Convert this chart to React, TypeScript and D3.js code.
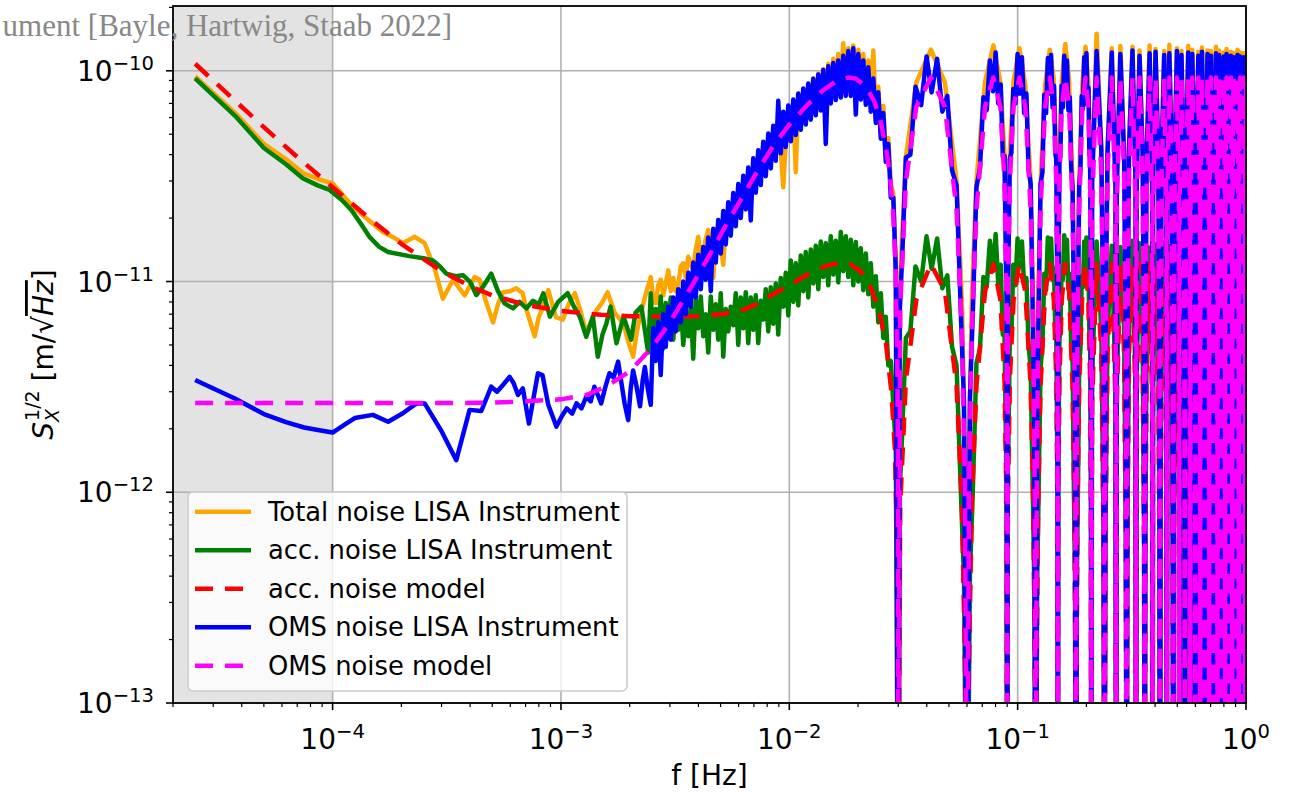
import React from 'react';
import * as d3 from 'd3';

// values are in pm/√Hz (1e-12 m/√Hz); frequencies in Hz
const UNIT = 1e-12;

// --- f < 2.5 mHz: measured spectra ---
const totalLow: [number, number][] = [
  [2.5e-5, 94], [3.75e-5, 63], [5e-5, 45], [6.25e-5, 38], [7.5e-5, 32.5], [8.75e-5, 30.5],
  [1e-4, 29.2], [1.1e-4, 26], [1.21e-4, 23], [1.4e-4, 20], [1.66e-4, 17.2], [1.85e-4, 16.2],
  [2.03e-4, 15.2], [2.29e-4, 16.3], [2.53e-4, 15.2], [2.8e-4, 11.5], [3.04e-4, 8.3], [3.37e-4, 10.2],
  [3.79e-4, 8.6], [4.19e-4, 10.5], [4.4e-4, 10.2], [4.7e-4, 8.0], [5.04e-4, 6.4], [5.3e-4, 7.8],
  [5.57e-4, 8.9], [6.0e-4, 9.0], [6.37e-4, 9.3], [6.8e-4, 8.8], [7.0e-4, 7.6], [7.67e-4, 5.5],
  [8.0e-4, 6.8], [8.37e-4, 7.6], [8.8e-4, 9.1], [9.5e-4, 6.8], [1.02e-3, 6.6], [1.08e-3, 7.8],
  [1.15e-3, 8.8], [1.22e-3, 7.2], [1.29e-3, 5.7], [1.36e-3, 6.5], [1.43e-3, 7.3], [1.52e-3, 8.0],
  [1.6e-3, 8.9], [1.72e-3, 7.1], [1.88e-3, 6.3], [1.97e-3, 5.2], [2.07e-3, 4.4], [2.15e-3, 5.8],
  [2.22e-3, 6.8], [2.33e-3, 8.4],
];
const accLow: [number, number][] = [
  [2.5e-5, 92], [3.75e-5, 61], [5e-5, 43], [6.25e-5, 36], [7.4e-5, 30.9], [8.6e-5, 28.6],
  [9.7e-5, 27.2], [1.1e-4, 24.3], [1.21e-4, 21.8], [1.33e-4, 18.8], [1.45e-4, 16.3], [1.6e-4, 14.6],
  [1.75e-4, 13.8], [2.17e-4, 13.2], [2.5e-4, 12.9], [2.75e-4, 12.6], [2.95e-4, 11.8], [3.15e-4, 10.9],
  [3.45e-4, 10.6], [3.73e-4, 10.7], [4.0e-4, 9.97], [4.26e-4, 8.63], [4.6e-4, 9.6], [4.95e-4, 10.9],
  [5.3e-4, 9.0], [5.66e-4, 7.88], [6.17e-4, 7.46], [6.59e-4, 8.0], [7.06e-4, 7.46], [7.55e-4, 8.1],
  [8.0e-4, 7.8], [8.37e-4, 8.79], [8.95e-4, 6.81], [9.72e-4, 8.0], [1.07e-3, 8.8], [1.14e-3, 7.6],
  [1.21e-3, 6.8], [1.29e-3, 5.47], [1.38e-3, 6.8], [1.45e-3, 4.4], [1.52e-3, 5.6], [1.58e-3, 6.3],
  [1.65e-3, 7.6], [1.75e-3, 5.1], [1.88e-3, 6.8], [2.03e-3, 5.3], [2.12e-3, 7.1], [2.25e-3, 7.6],
  [2.41e-3, 4.6],
];
const omsLow: [number, number][] = [
  [2.5e-5, 3.41], [3.75e-5, 2.78], [5e-5, 2.35], [6.25e-5, 2.15], [7.5e-5, 2.03], [8.75e-5, 1.97],
  [1e-4, 1.92], [1.12e-4, 2.08], [1.25e-4, 2.25], [1.5e-4, 2.33], [1.75e-4, 2.16], [2.03e-4, 2.37],
  [2.33e-4, 2.64], [2.53e-4, 2.64], [3.0e-4, 1.95], [3.48e-4, 1.42], [3.98e-4, 2.46], [4.48e-4, 2.43],
  [4.95e-4, 3.17], [5.25e-4, 3.0], [5.57e-4, 3.23], [5.96e-4, 3.53], [6.2e-4, 3.3], [6.48e-4, 2.9],
  [6.81e-4, 3.11], [7.24e-4, 2.12], [7.93e-4, 3.67], [8.3e-4, 3.6], [8.8e-4, 2.6], [9.55e-4, 2.05],
  [1.01e-3, 2.3], [1.06e-3, 2.5], [1.12e-3, 2.36], [1.17e-3, 2.64], [1.23e-3, 2.5], [1.29e-3, 2.84],
  [1.35e-3, 2.7], [1.4e-3, 3.17], [1.45e-3, 2.9], [1.5e-3, 2.64], [1.57e-3, 3.2], [1.63e-3, 3.67],
  [1.7e-3, 3.5], [1.78e-3, 4.17], [1.84e-3, 3.3], [1.9e-3, 2.64], [1.97e-3, 2.2], [2.02e-3, 3.1],
  [2.07e-3, 3.78], [2.14e-3, 3.2], [2.22e-3, 2.56], [2.28e-3, 3.4], [2.33e-3, 3.93], [2.4e-3, 3.1],
];

// --- 2.5 – 29 mHz: measured spectra on a shared frequency grid ---
const riseFreqs = [
  2.473e-3, 2.536e-3, 2.601e-3, 2.667e-3, 2.735e-3, 2.805e-3, 2.877e-3, 2.95e-3, 3.026e-3, 3.103e-3,
  3.182e-3, 3.263e-3, 3.347e-3, 3.432e-3, 3.52e-3, 3.61e-3, 3.702e-3, 3.796e-3, 3.893e-3, 3.993e-3,
  4.095e-3, 4.199e-3, 4.306e-3, 4.416e-3, 4.529e-3, 4.645e-3, 4.763e-3, 4.885e-3, 5.01e-3, 5.138e-3,
  5.269e-3, 5.403e-3, 5.541e-3, 5.683e-3, 5.828e-3, 5.977e-3, 6.129e-3, 6.286e-3, 6.446e-3, 6.611e-3,
  6.78e-3, 6.953e-3, 7.13e-3, 7.312e-3, 7.499e-3, 7.69e-3, 7.887e-3, 8.088e-3, 8.295e-3, 8.506e-3,
  8.724e-3, 8.946e-3, 9.175e-3, 9.409e-3, 9.649e-3, 9.896e-3, 1.0148e-2, 1.0407e-2, 1.0673e-2, 1.0946e-2,
  1.1225e-2, 1.1512e-2, 1.1806e-2, 1.2107e-2, 1.2417e-2, 1.2734e-2, 1.3059e-2, 1.3393e-2, 1.3735e-2, 1.4085e-2,
  1.4445e-2, 1.4814e-2, 1.5192e-2, 1.558e-2, 1.5978e-2, 1.6386e-2, 1.6805e-2, 1.7234e-2, 1.7674e-2, 1.8126e-2,
  1.8589e-2, 1.9064e-2, 1.9551e-2, 2.005e-2, 2.0562e-2, 2.1087e-2, 2.1626e-2, 2.2178e-2, 2.2745e-2, 2.3326e-2,
  2.3922e-2, 2.4533e-2, 2.516e-2, 2.5802e-2, 2.6461e-2, 2.7137e-2, 2.783e-2, 2.8541e-2, 2.927e-2,
];
const totalRise = [
  10.5, 8.2, 7.9, 9.6, 10.2, 8.6, 9.8, 11.3, 9.0, 10.4,
  9.0, 9.6, 11.8, 12.2, 10.5, 13.1, 12.0, 11.5, 14.2, 16.3,
  13.0, 13.5, 16.0, 17.6, 14.5, 10.4, 16.5, 18.5, 15.0, 12.0,
  19.5, 22.0, 17.5, 24.5, 19.0, 27.0, 21.5, 30.0, 23.0, 34.0,
  26.0, 37.5, 28.0, 41.0, 31.0, 45.0, 34.0, 49.0, 37.0, 53.0,
  40.0, 57.0, 42.0, 28.0, 46.0, 65.0, 49.0, 70.0, 33.0, 75.0,
  55.0, 80.0, 58.0, 86.0, 62.0, 92.0, 66.0, 97.0, 70.0, 102,
  66, 108, 75, 114, 80, 120, 82, 135, 86, 128,
  84, 132, 80, 126, 78, 120, 74, 112, 70, 125,
  60, 84, 50, 68, 40, 48, 29, 26, 12,
];
const accRise = [
  8.8, 5.2, 7.4, 5.6, 8.5, 4.8, 7.9, 5.9, 8.4, 5.3,
  7.6, 5.9, 8.1, 5.0, 7.2, 5.5, 7.6, 4.3, 8.2, 6.0,
  8.5, 5.5, 7.0, 4.6, 8.5, 5.9, 7.8, 5.3, 8.8, 4.4,
  7.4, 5.8, 7.6, 6.2, 8.8, 5.0, 8.4, 6.0, 8.9, 5.1,
  8.4, 5.9, 8.6, 5.1, 8.1, 6.6, 9.2, 5.8, 9.4, 6.3,
  9.8, 5.6, 10.4, 7.6, 11.0, 6.9, 12.6, 8.0, 12.2, 7.7,
  13.3, 9.0, 13.8, 8.4, 14.2, 9.8, 14.8, 9.2, 15.5, 10.5,
  15.2, 9.6, 16.4, 10.8, 15.6, 9.9, 17.2, 11.2, 16.4, 10.5,
  15.8, 9.6, 15.4, 10.0, 14.4, 9.1, 13.6, 8.7, 12.2, 7.6,
  10.6, 6.4, 8.8, 5.4, 6.8, 4.0, 4.2, 2.6, 1.6,
];
const omsRise = [
  2.6, 6.0, 4.2, 6.4, 3.6, 7.0, 4.9, 7.6, 5.3, 8.4,
  5.8, 9.2, 6.4, 10.0, 7.0, 11.0, 7.6, 12.3, 8.4, 13.4,
  9.2, 14.6, 10.2, 16.2, 9.0, 17.8, 12.3, 19.6, 13.6, 21.6,
  15.0, 23.8, 16.5, 26.3, 18.3, 29.0, 20.0, 31.8, 22.0, 34.8,
  19.5, 38.5, 26.4, 42, 28.7, 46, 31.6, 50.4, 34.4, 54.8,
  37.4, 72, 40.6, 64, 43.5, 68.5, 46.3, 73, 49.6, 78,
  52.5, 82.4, 55.6, 87, 58.6, 91.6, 61.5, 96, 64.8, 101,
  45, 105, 70, 109, 72.6, 112, 74.6, 118, 76, 124,
  76, 128, 62, 120, 73, 112, 69, 104, 64, 92,
  56.6, 79, 47.6, 63, 37, 45, 25, 25, 11,
];

// --- noise models below the first transfer-function zero ---
const accModelLow: [number, number][] = [
  [2.5e-5, 108], [3.5e-5, 77], [5e-5, 54], [7e-5, 39], [1e-4, 28], [1.5e-4, 19.3],
  [2e-4, 15.1], [3e-4, 11.2], [4e-4, 9.5], [5e-4, 8.6], [7e-4, 7.75], [1e-3, 7.25],
  [1.5e-3, 6.95], [2e-3, 6.85], [3e-3, 6.8], [4e-3, 6.85], [5e-3, 7.0], [6e-3, 7.2],
  [7e-3, 7.7], [8e-3, 8.4], [1e-2, 9.6], [1.2e-2, 10.8], [1.4e-2, 11.7], [1.65e-2, 12.3],
  [1.85e-2, 12.1], [2.05e-2, 11.2], [2.25e-2, 9.6], [2.45e-2, 7.6], [2.65e-2, 5.1], [2.8e-2, 3.0],
  [2.9e-2, 1.6], [2.97e-2, 0.5],
];
const omsModelLow: [number, number][] = [
  [2.5e-5, 2.65], [1e-4, 2.65], [3e-4, 2.65], [5e-4, 2.66], [7e-4, 2.7], [1e-3, 2.76],
  [1.3e-3, 2.9], [1.6e-3, 3.2], [2e-3, 3.75], [2.5e-3, 4.85], [3e-3, 6.4], [3.8e-3, 9.8],
  [4.5e-3, 13.5], [5.2e-3, 18.0], [6.2e-3, 25], [7.2e-3, 33], [8.5e-3, 44], [1e-2, 55.5],
  [1.2e-2, 69], [1.4e-2, 80.5], [1.6e-2, 89], [1.82e-2, 93], [1.95e-2, 92], [2.15e-2, 85],
  [2.35e-2, 72], [2.5e-2, 59], [2.65e-2, 43], [2.75e-2, 33], [2.85e-2, 21], [2.92e-2, 12],
  [2.97e-2, 4.5], [2.99e-2, 1.5],
];

// --- 30 – 210 mHz: first six TDI lobes (zeros every 30 mHz) ---
// models and total noise
const nearFreqs = [
  0.03, 0.0306, 0.0324, 0.036, 0.0417, 0.048, 0.054, 0.057, 0.0588,
  0.06, 0.0612, 0.063, 0.066, 0.072, 0.0783, 0.084, 0.0876, 0.0894,
  0.09, 0.0906, 0.0924, 0.096, 0.1017, 0.108, 0.114, 0.117, 0.1188,
  0.12, 0.1212, 0.123, 0.126, 0.132, 0.1383, 0.144, 0.1476, 0.1494,
  0.15, 0.1506, 0.1524, 0.156, 0.1617, 0.168, 0.174, 0.177, 0.1788,
  0.18, 0.1812, 0.183, 0.186, 0.192, 0.1983, 0.204, 0.2076, 0.2094,
];
const totalNear = [
  0.01, 10.5, 39, 88, 126, 88, 30, 8.0, 1.4,
  0.01, 1.4, 8.3, 30, 89, 132, 89, 40, 10.5,
  0.01, 10.6, 41, 90, 128, 86, 30, 8.1, 1.3,
  0.01, 1.3, 8.0, 29, 87, 126, 91, 38, 10,
  0.01, 10, 40, 89, 134, 90, 29, 8.4, 1.4,
  0.01, 1.4, 8.1, 30, 88, 130, 88, 41, 10.3,
];
const accModelNear = [
  0.01, 0.86, 3.4, 8.2, 12.1, 9.0, 3.2, 0.9, 0.15,
  0.01, 0.15, 0.9, 3.2, 9.0, 12.1, 8.2, 3.4, 0.86,
  0.01, 0.86, 3.4, 8.2, 12.1, 9.0, 3.2, 0.9, 0.15,
  0.01, 0.15, 0.9, 3.2, 9.0, 12.1, 8.2, 3.4, 0.86,
  0.01, 0.86, 3.4, 8.2, 12.1, 9.0, 3.2, 0.9, 0.15,
  0.01, 0.15, 0.9, 3.2, 9.0, 12.1, 8.2, 3.4, 0.86,
];
const omsModelNear = [
  0.01, 7.6, 29.8, 67.5, 93, 67.5, 21.9, 5.9, 0.95,
  0.01, 0.95, 5.9, 21.9, 67.5, 93, 67.5, 29.8, 7.6,
  0.01, 7.6, 29.8, 67.5, 93, 67.5, 21.9, 5.9, 0.95,
  0.01, 0.95, 5.9, 21.9, 67.5, 93, 67.5, 29.8, 7.6,
  0.01, 7.6, 29.8, 67.5, 93, 67.5, 21.9, 5.9, 0.95,
  0.01, 0.95, 5.9, 21.9, 67.5, 93, 67.5, 29.8, 7.6,
];
// acc. and OMS measured spectra, finer grid
const nearMeasFreqs = [
  0.03, 0.03045, 0.0312, 0.0324, 0.0339, 0.0357, 0.0378, 0.0399, 0.042, 0.0444, 0.0468, 0.0492, 0.0516, 0.054, 0.0564, 0.0582,
  0.06, 0.0618, 0.0636, 0.066, 0.0684, 0.0708, 0.0732, 0.0756, 0.078, 0.0801, 0.0822, 0.0843, 0.0861, 0.0876, 0.0888, 0.08955,
  0.09, 0.09045, 0.0912, 0.0924, 0.0939, 0.0957, 0.0978, 0.0999, 0.102, 0.1044, 0.1068, 0.1092, 0.1116, 0.114, 0.1164, 0.1182,
  0.12, 0.1218, 0.1236, 0.126, 0.1284, 0.1308, 0.1332, 0.1356, 0.138, 0.1401, 0.1422, 0.1443, 0.1461, 0.1476, 0.1488, 0.14955,
  0.15, 0.15045, 0.1512, 0.1524, 0.1539, 0.1557, 0.1578, 0.1599, 0.162, 0.1644, 0.1668, 0.1692, 0.1716, 0.174, 0.1764, 0.1782,
  0.18, 0.1818, 0.1836, 0.186, 0.1884, 0.1908, 0.1932, 0.1956, 0.198, 0.2001, 0.2022, 0.2043, 0.2061, 0.2076, 0.2088, 0.20955,
];
const accNear = [
  0.01, 1.0, 1.9, 5.4, 5.8, 11.8, 10.0, 16.4, 11.5, 16.0, 9.3, 10.7, 4.9, 4.0, 1.0, 0.39,
  0.01, 0.4, 1.0, 4.1, 4.8, 10.5, 9.5, 15.6, 11.2, 16.8, 9.8, 12.0, 5.6, 5.5, 1.8, 1.05,
  0.01, 1.05, 1.85, 5.5, 5.6, 12.0, 9.6, 16.0, 11.8, 15.5, 9.5, 10.4, 5.0, 3.9, 1.05, 0.38,
  0.01, 0.38, 1.05, 3.9, 5.0, 10.9, 9.1, 16.2, 11.3, 16.0, 10.2, 11.6, 5.9, 5.3, 1.9, 0.98,
  0.01, 0.98, 1.95, 5.3, 5.9, 11.6, 10.2, 16.6, 11.2, 15.8, 9.2, 10.9, 4.8, 4.1, 0.98, 0.4,
  0.01, 0.4, 0.98, 4.1, 4.8, 10.6, 9.4, 15.5, 11.6, 16.2, 9.9, 11.7, 5.7, 5.5, 1.85, 1.0,
];
const omsNear = [
  0.01, 7.4, 12.8, 38.7, 40, 84, 68.7, 117, 79, 114, 64, 76, 33.7, 28.5, 7.1, 2.7,
  0.01, 2.8, 7.0, 28.0, 34.5, 75, 65, 112, 80, 122, 70, 86, 39, 39.5, 12.5, 7.6,
  0.01, 7.2, 13.2, 38.0, 41, 82, 70, 120, 78, 116, 63, 78, 34, 29, 7.0, 2.8,
  0.01, 2.7, 7.2, 29.0, 33.0, 77, 63, 115, 78, 119, 67, 85, 41, 38, 13, 7.3,
  0.01, 7.5, 12.6, 39.5, 39, 85, 67, 118, 80, 112, 65, 75, 34.5, 28, 7.2, 2.6,
  0.01, 2.6, 7.1, 28.5, 34, 76, 66, 116, 77, 121, 69, 83, 40, 39, 12.7, 7.5,
];

// --- 210 mHz – 1 Hz: dense lobes, shared grid for all five curves ---
const farFreqs = [
  0.21, 0.2118, 0.2217, 0.2325, 0.2376,
  0.24, 0.2424, 0.2475, 0.2583, 0.2682,
  0.27, 0.2718, 0.2817, 0.2925, 0.2976,
  0.3, 0.3024, 0.3075, 0.3183, 0.3282,
  0.33, 0.3318, 0.3417, 0.3525, 0.3576,
  0.36, 0.3624, 0.3675, 0.3783, 0.3882,
  0.39, 0.3918, 0.4017, 0.4125, 0.4176,
  0.42, 0.4224, 0.4275, 0.4383, 0.4482,
  0.45, 0.4518, 0.4617, 0.4725, 0.4776,
  0.48, 0.4824, 0.4875, 0.4983, 0.5082,
  0.51, 0.5118, 0.5217, 0.5325, 0.5376,
  0.54, 0.5424, 0.5475, 0.5583, 0.5682,
  0.57, 0.5718, 0.5817, 0.5925, 0.5976,
  0.6, 0.6024, 0.6075, 0.6183, 0.6282,
  0.63, 0.6318, 0.6417, 0.6525, 0.6576,
  0.66, 0.6624, 0.6675, 0.6783, 0.6882,
  0.69, 0.6918, 0.7017, 0.7125, 0.7176,
  0.72, 0.7224, 0.7275, 0.7383, 0.7482,
  0.75, 0.7518, 0.7617, 0.7725, 0.7776,
  0.78, 0.7824, 0.7875, 0.7983, 0.8082,
  0.81, 0.8118, 0.8217, 0.8325, 0.8376,
  0.84, 0.8424, 0.8475, 0.8583, 0.8682,
  0.87, 0.8718, 0.8817, 0.8925, 0.8976,
  0.9, 0.9024, 0.9075, 0.9183, 0.9282,
  0.93, 0.9318, 0.9417, 0.9525, 0.9576,
  0.96, 0.9624, 0.9675, 0.9783, 0.9882,
  0.99, 0.9918, 1.0,
];
const totalFar = [
  0.01, 31, 150, 44, 5.3,
  0.01, 5.4, 43, 128, 29,
  0.01, 29, 131, 42, 5.0,
  0.01, 5.1, 45, 130, 31,
  0.01, 28, 125, 43, 5.3,
  0.01, 5.2, 42, 132, 29,
  0.01, 30, 127, 44, 5.1,
  0.01, 5.0, 43, 124, 28,
  0.01, 29, 133, 42, 5.4,
  0.01, 5.3, 44, 128, 30,
  0.01, 28, 124, 43, 5.0,
  0.01, 5.1, 42, 131, 29,
  0.01, 30, 126, 45, 5.2,
  0.01, 5.4, 43, 123, 28,
  0.01, 29, 129, 42, 5.1,
  0.01, 5.0, 44, 125, 30,
  0.01, 28, 124, 43, 5.3,
  0.01, 5.2, 42, 130, 29,
  0.01, 30, 125, 44, 5.1,
  0.01, 5.3, 43, 122, 28,
  0.01, 29, 127, 42, 5.2,
  0.01, 5.1, 44, 123, 29,
  0.01, 28, 121, 43, 5.4,
  0.01, 5.2, 42, 126, 30,
  0.01, 29, 122, 44, 5.0,
  0.01, 5.3, 43, 121, 28,
  0.01, 29, 118,
];
const accFar = [
  0.01, 3.4, 15.5, 5.9, 0.72,
  0.01, 0.7, 5.7, 14.8, 3.2,
  0.01, 3.2, 14.6, 6.0, 0.68,
  0.01, 0.73, 5.9, 15.6, 3.4,
  0.01, 3.3, 15.2, 5.6, 0.7,
  0.01, 0.68, 5.8, 14.5, 3.3,
  0.01, 3.4, 15.0, 5.9, 0.71,
  0.01, 0.7, 5.6, 15.3, 3.2,
  0.01, 3.2, 14.7, 5.8, 0.69,
  0.01, 0.72, 5.9, 15.1, 3.4,
  0.01, 3.3, 15.4, 5.7, 0.7,
  0.01, 0.69, 5.7, 14.6, 3.3,
  0.01, 3.4, 14.9, 6.0, 0.72,
  0.01, 0.7, 5.8, 15.2, 3.2,
  0.01, 3.2, 15.1, 5.8, 0.68,
  0.01, 0.71, 5.6, 14.7, 3.4,
  0.01, 3.3, 15.3, 5.9, 0.7,
  0.01, 0.7, 5.9, 14.9, 3.3,
  0.01, 3.4, 14.6, 5.7, 0.71,
  0.01, 0.69, 5.8, 15.4, 3.2,
  0.01, 3.2, 15.0, 5.9, 0.7,
  0.01, 0.72, 5.7, 14.8, 3.4,
  0.01, 3.3, 15.2, 5.8, 0.69,
  0.01, 0.7, 5.9, 15.0, 3.3,
  0.01, 3.4, 14.7, 5.6, 0.71,
  0.01, 0.68, 5.8, 15.3, 3.2,
  0.01, 3.3, 14.8,
];
const accModelFar = [
  0.01, 2.6, 12.1, 4.6, 0.58,
  0.01, 0.58, 4.6, 12.1, 2.6,
  0.01, 2.6, 12.1, 4.6, 0.58,
  0.01, 0.58, 4.6, 12.1, 2.6,
  0.01, 2.6, 12.1, 4.6, 0.58,
  0.01, 0.58, 4.6, 12.1, 2.6,
  0.01, 2.6, 12.1, 4.6, 0.58,
  0.01, 0.58, 4.6, 12.1, 2.6,
  0.01, 2.6, 12.1, 4.6, 0.58,
  0.01, 0.58, 4.6, 12.1, 2.6,
  0.01, 2.6, 12.1, 4.6, 0.58,
  0.01, 0.58, 4.6, 12.1, 2.6,
  0.01, 2.6, 12.1, 4.6, 0.58,
  0.01, 0.58, 4.6, 12.1, 2.6,
  0.01, 2.6, 12.1, 4.6, 0.58,
  0.01, 0.58, 4.6, 12.1, 2.6,
  0.01, 2.6, 12.1, 4.6, 0.58,
  0.01, 0.58, 4.6, 12.1, 2.6,
  0.01, 2.6, 12.1, 4.6, 0.58,
  0.01, 0.58, 4.6, 12.1, 2.6,
  0.01, 2.6, 12.1, 4.6, 0.58,
  0.01, 0.58, 4.6, 12.1, 2.6,
  0.01, 2.6, 12.1, 4.6, 0.58,
  0.01, 0.58, 4.6, 12.1, 2.6,
  0.01, 2.6, 12.1, 4.6, 0.58,
  0.01, 0.58, 4.6, 12.1, 2.6,
  0.01, 2.6, 11.8,
];
const omsFar = [
  0.01, 29, 124, 42, 5.0,
  0.01, 5.2, 41, 122, 28,
  0.01, 28, 120, 40, 4.8,
  0.01, 4.9, 43, 125, 30,
  0.01, 27, 118, 41, 5.1,
  0.01, 5.0, 40, 121, 28,
  0.01, 29, 123, 42, 4.9,
  0.01, 4.8, 41, 119, 27,
  0.01, 28, 121, 40, 5.2,
  0.01, 5.1, 42, 124, 29,
  0.01, 27, 119, 41, 4.8,
  0.01, 4.9, 40, 122, 28,
  0.01, 29, 120, 43, 5.0,
  0.01, 5.2, 41, 118, 27,
  0.01, 28, 123, 40, 4.9,
  0.01, 4.8, 42, 120, 29,
  0.01, 27, 118, 41, 5.1,
  0.01, 5.0, 40, 121, 28,
  0.01, 29, 119, 42, 4.9,
  0.01, 5.1, 41, 117, 27,
  0.01, 28, 120, 40, 5.0,
  0.01, 4.9, 42, 118, 28,
  0.01, 27, 116, 41, 5.2,
  0.01, 5.0, 40, 119, 29,
  0.01, 28, 117, 42, 4.8,
  0.01, 5.1, 41, 116, 27,
  0.01, 28, 112,
];
const omsModelFar = [
  0.01, 22.5, 93, 32.7, 3.8,
  0.01, 3.8, 32.7, 93, 22.5,
  0.01, 22.5, 93, 32.7, 3.8,
  0.01, 3.8, 32.7, 93, 22.5,
  0.01, 22.5, 93, 32.7, 3.8,
  0.01, 3.8, 32.7, 93, 22.5,
  0.01, 22.5, 93, 32.7, 3.8,
  0.01, 3.8, 32.7, 93, 22.5,
  0.01, 22.5, 93, 32.7, 3.8,
  0.01, 3.8, 32.7, 93, 22.5,
  0.01, 22.5, 93, 32.7, 3.8,
  0.01, 3.8, 32.7, 93, 22.5,
  0.01, 22.5, 93, 32.7, 3.8,
  0.01, 3.8, 32.7, 93, 22.5,
  0.01, 22.5, 93, 32.7, 3.8,
  0.01, 3.8, 32.7, 93, 22.5,
  0.01, 22.5, 93, 32.7, 3.8,
  0.01, 3.8, 32.7, 93, 22.5,
  0.01, 22.5, 93, 32.7, 3.8,
  0.01, 3.8, 32.7, 93, 22.5,
  0.01, 22.5, 93, 32.7, 3.8,
  0.01, 3.8, 32.7, 93, 22.5,
  0.01, 22.5, 93, 32.7, 3.8,
  0.01, 3.8, 32.7, 93, 22.5,
  0.01, 22.5, 93, 32.7, 3.8,
  0.01, 3.8, 32.7, 93, 22.5,
  0.01, 22.5, 90,
];

// axes
const xDomain: [number, number] = [2e-5, 1];
const yDomain: [number, number] = [1e-13, 2.03e-10];
const shadeUntil = 1e-4;
const xMajor = [1e-4, 1e-3, 1e-2, 1e-1, 1];
const xMajorExp = ['−4', '−3', '−2', '−1', '0'];
const yMajor = [1e-13, 1e-12, 1e-11, 1e-10];
const yMajorExp = ['−13', '−12', '−11', '−10'];

const pairs = (fs: number[], vs: number[]): [number, number][] => fs.map((f, i) => [f, vs[i]]);

const series = [
  { label: 'Total noise LISA Instrument', color: '#ffa500', dash: '',
    points: [...totalLow, ...pairs(riseFreqs, totalRise), ...pairs(nearFreqs, totalNear), ...pairs(farFreqs, totalFar)] },
  { label: 'acc. noise LISA Instrument', color: '#008000', dash: '',
    points: [...accLow, ...pairs(riseFreqs, accRise), ...pairs(nearMeasFreqs, accNear), ...pairs(farFreqs, accFar)] },
  { label: 'acc. noise model', color: '#ff0000', dash: '18 12',
    points: [...accModelLow, ...pairs(nearFreqs, accModelNear), ...pairs(farFreqs, accModelFar)] },
  { label: 'OMS noise LISA Instrument', color: '#0000ff', dash: '',
    points: [...omsLow, ...pairs(riseFreqs, omsRise), ...pairs(nearMeasFreqs, omsNear), ...pairs(farFreqs, omsFar)] },
  { label: 'OMS noise model', color: '#ff00ff', dash: '18 12',
    points: [...omsModelLow, ...pairs(nearFreqs, omsModelNear), ...pairs(farFreqs, omsModelFar)] },
];

const W = 1289;
const H = 795;
const box = { left: 173, right: 1246, top: 6, bottom: 703 };
const font = 'DejaVu Sans, sans-serif';

export default function App() {
  const x = d3.scaleLog().domain(xDomain).range([box.left, box.right]);
  const y = d3.scaleLog().domain(yDomain).range([box.bottom, box.top]);
  const line = d3.line<[number, number]>()
    .x(d => x(d[0]))
    .y(d => y(d[1] * UNIT));

  const isMajor = (v: number) => Math.abs(Math.log10(v) - Math.round(Math.log10(v))) < 1e-6;
  const xMinor = x.ticks().filter(v => !isMajor(v));
  const yMinor = y.ticks().filter(v => !isMajor(v));

  const legendTop = 511.7;
  const legendStep = 38.5;

  return (
    <svg width={W} height={H} style={{ position: 'absolute', left: 0, top: 0, background: '#fff' }}>
      <defs>
        <clipPath id="plotArea">
          <rect x={box.left} y={box.top} width={box.right - box.left} height={box.bottom - box.top} />
        </clipPath>
      </defs>

      {/* shaded band below 1e-4 Hz */}
      <rect x={box.left} y={box.top} width={x(shadeUntil) - box.left} height={box.bottom - box.top} fill="#e3e3e3" />

      {/* grid */}
      <g stroke="#b0b0b0" strokeWidth={1.6}>
        {xMajor.map(v => <line key={'gx' + v} x1={x(v)} x2={x(v)} y1={box.top} y2={box.bottom} />)}
        {yMajor.map(v => <line key={'gy' + v} x1={box.left} x2={box.right} y1={y(v)} y2={y(v)} />)}
      </g>

      {/* curves */}
      <g clipPath="url(#plotArea)" fill="none" strokeLinejoin="round">
        {series.map(s => (
          <path key={s.label} d={line(s.points) || ''} stroke={s.color} strokeWidth={4.5}
            strokeDasharray={s.dash || undefined} />
        ))}
      </g>

      {/* spines */}
      <rect x={box.left} y={box.top} width={box.right - box.left} height={box.bottom - box.top}
        fill="none" stroke="#000" strokeWidth={1.8} />

      {/* ticks */}
      <g stroke="#000">
        {xMajor.map(v => <line key={'tx' + v} x1={x(v)} x2={x(v)} y1={box.bottom} y2={box.bottom + 7} strokeWidth={1.6} />)}
        {xMinor.map(v => <line key={'mx' + v} x1={x(v)} x2={x(v)} y1={box.bottom} y2={box.bottom + 4} strokeWidth={1.2} />)}
        {yMajor.map(v => <line key={'ty' + v} x1={box.left - 7} x2={box.left} y1={y(v)} y2={y(v)} strokeWidth={1.6} />)}
        {yMinor.map(v => <line key={'my' + v} x1={box.left - 4} x2={box.left} y1={y(v)} y2={y(v)} strokeWidth={1.2} />)}
      </g>

      {/* tick labels */}
      <g fontFamily={font} fontSize={28} fill="#000">
        {xMajor.map((v, i) => (
          <text key={'lx' + v} x={x(v)} y={749} textAnchor="middle">
            10<tspan fontSize={19.6} dy={-11}>{xMajorExp[i]}</tspan>
          </text>
        ))}
        {yMajor.map((v, i) => (
          <text key={'ly' + v} x={154} y={y(v) + 10} textAnchor="end">
            10<tspan fontSize={19.6} dy={-11}>{yMajorExp[i]}</tspan>
          </text>
        ))}
      </g>

      {/* axis labels */}
      <text x={(box.left + box.right) / 2} y={785} textAnchor="middle" fontFamily={font} fontSize={28}>f [Hz]</text>
      <text transform={`translate(53,${(box.top + box.bottom) / 2}) rotate(-90)`} textAnchor="middle"
        fontFamily={font} fontSize={28}>
        <tspan fontStyle="italic">S</tspan>
        <tspan fontSize={19} fontStyle="italic" dy={6}>X</tspan>
        <tspan fontSize={19} dx={-12} dy={-20}>1/2</tspan>
        <tspan dy={14}> [m/√</tspan>
        <tspan fontStyle="italic" style={{ textDecoration: 'overline' }}>Hz</tspan>
        <tspan>]</tspan>
      </text>

      {/* legend */}
      <g fontFamily={font} fontSize={25.8}>
        <rect x={188} y={492} width={439} height={199} rx={5} fill="#fff" fillOpacity={0.8}
          stroke="#cccccc" strokeWidth={1.6} />
        {series.map((s, i) => {
          const ly = legendTop + i * legendStep;
          return (
            <g key={'lg' + s.label}>
              <line x1={195} x2={251} y1={ly} y2={ly} stroke={s.color} strokeWidth={4.5}
                strokeDasharray={s.dash || undefined} />
              <text x={268} y={ly + 9}>{s.label}</text>
            </g>
          );
        })}
      </g>

      {/* source note */}
      <text x={452} y={36} textAnchor="end" fontFamily="Liberation Serif, serif" fontSize={31} fill="#888888">
        ument [Bayle, Hartwig, Staab 2022]
      </text>
    </svg>
  );
}
